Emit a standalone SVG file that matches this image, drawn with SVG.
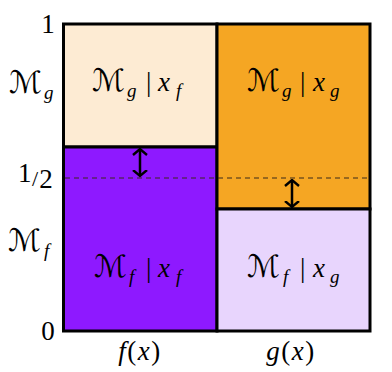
<svg xmlns="http://www.w3.org/2000/svg" width="392" height="372" viewBox="0 0 392 372">
<style>
.cell{stroke:#000;stroke-width:3}
.t{font-family:"Liberation Serif","DejaVu Serif",serif;font-size:27px;fill:#000}
.m{font-family:"DejaVu Serif","DejaVu Sans",serif;font-size:31px;font-style:normal}
.i{font-family:"Liberation Serif",serif;font-style:italic}
.s{font-family:"Liberation Serif",serif;font-size:19px;font-style:italic}
.arr{stroke:#000;stroke-width:2.5;fill:none;marker-start:url(#h);marker-end:url(#h)}
</style>
<defs>
<marker id="h" viewBox="0 0 8 16" refX="6.5" refY="8" markerWidth="8" markerHeight="16" markerUnits="userSpaceOnUse" orient="auto-start-reverse">
<path d="M0.5,1 L6.5,8 L0.5,15" fill="none" stroke="#000" stroke-width="2.4"/>
</marker>
</defs>
<rect x="0" y="0" width="392" height="372" fill="#fff"/>
<g id="cell-gf">
<rect class="cell" x="63.5" y="24" width="153.5" height="123" fill="#fdebd3"/>
<text class="t" y="91"><tspan class="m" x="92">ℳ</tspan><tspan class="s" x="127" dy="6">g</tspan><tspan x="146" dy="-6">|</tspan><tspan class="i" x="158">x</tspan><tspan class="s" x="176" dy="6">f</tspan></text>
</g>
<g id="cell-ff">
<rect class="cell" x="63.5" y="147" width="153.5" height="184" fill="#8e19ff"/>
<text class="t" y="277"><tspan class="m" x="94">ℳ</tspan><tspan class="s" x="129" dy="6">f</tspan><tspan x="146" dy="-6">|</tspan><tspan class="i" x="158">x</tspan><tspan class="s" x="176" dy="6">f</tspan></text>
</g>
<g id="cell-gg">
<rect class="cell" x="217" y="24" width="153" height="185" fill="#f5a623"/>
<text class="t" y="91"><tspan class="m" x="247">ℳ</tspan><tspan class="s" x="282" dy="6">g</tspan><tspan x="300" dy="-6">|</tspan><tspan class="i" x="313">x</tspan><tspan class="s" x="330" dy="6">g</tspan></text>
</g>
<g id="cell-fg">
<rect class="cell" x="217" y="209" width="153" height="122" fill="#e8d5fd"/>
<text class="t" y="277"><tspan class="m" x="247">ℳ</tspan><tspan class="s" x="283" dy="6">f</tspan><tspan x="300" dy="-6">|</tspan><tspan class="i" x="313">x</tspan><tspan class="s" x="330" dy="6">g</tspan></text>
</g>
<g id="connectors">
<line x1="65" y1="178" x2="368.5" y2="178" stroke="#3a2a1a" stroke-width="1" stroke-dasharray="5,4"/>
<line class="arr" x1="140" y1="149" x2="140" y2="176"/>
<line class="arr" x1="292" y1="180" x2="292" y2="207"/>
</g>
<g id="axis-labels">
<text class="t" x="48" y="33" text-anchor="middle" font-size="28">1</text>
<text class="t" x="48" y="340" text-anchor="middle" font-size="28">0</text>
<text class="t" x="18" y="182" font-size="15">1<tspan font-size="22" dy="4" dx="0.5">/</tspan><tspan dy="2" dx="1">2</tspan></text>
<text class="t" y="93"><tspan class="m" x="9">ℳ</tspan><tspan class="s" x="44" dy="6">g</tspan></text>
<text class="t" y="251"><tspan class="m" x="8">ℳ</tspan><tspan class="s" x="44" dy="6">f</tspan></text>
<text class="t" x="140" y="360" text-anchor="middle" font-size="30" letter-spacing="1.5"><tspan class="i">f</tspan>(<tspan class="i">x</tspan>)</text>
<text class="t" x="291" y="360" text-anchor="middle" font-size="30" letter-spacing="1.5"><tspan class="i">g</tspan>(<tspan class="i">x</tspan>)</text>
</g>
</svg>
